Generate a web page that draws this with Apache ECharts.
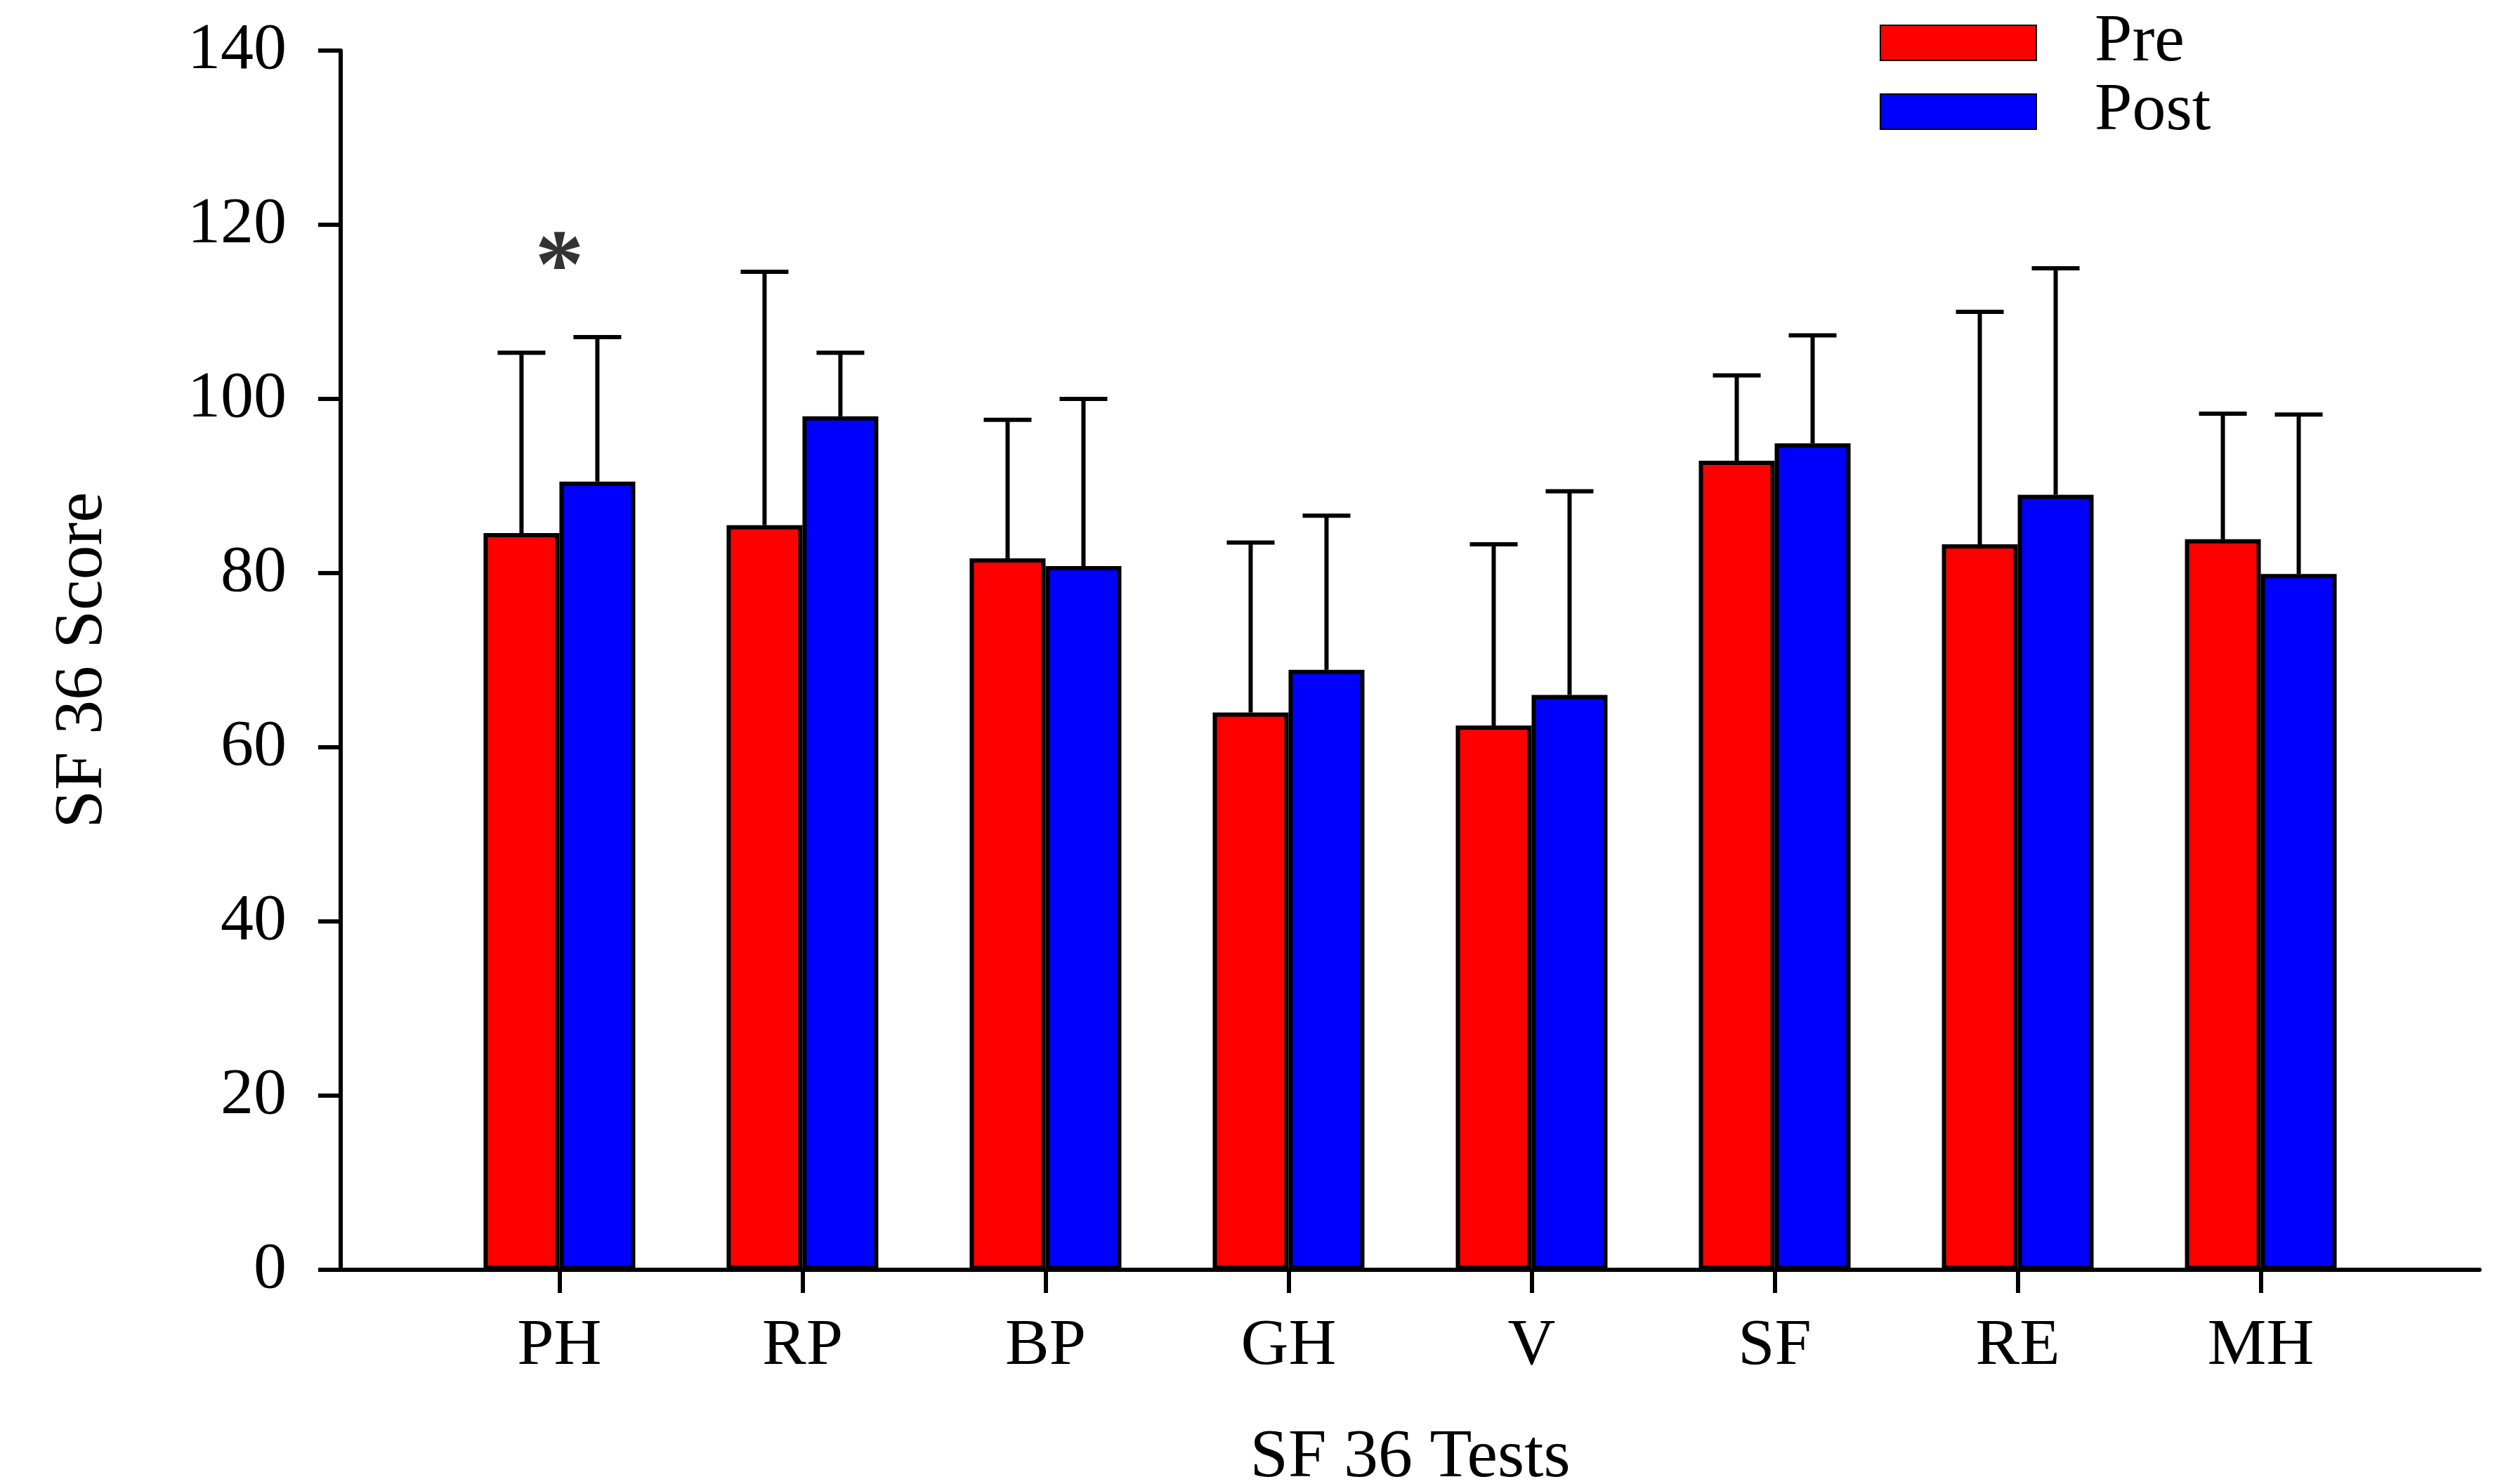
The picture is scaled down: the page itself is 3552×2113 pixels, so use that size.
<!DOCTYPE html>
<html>
<head>
<meta charset="utf-8">
<script src="https://cdn.jsdelivr.net/npm/echarts@6/dist/echarts.min.js"></script>
<style>
html,body{margin:0;padding:0;background:#fff;}
#chart{width:3552px;height:2113px;}
</style>
</head>
<body>
<div id="chart"></div>
<script>
const categories = ['PH', 'RP', 'BP', 'GH', 'V', 'SF', 'RE', 'MH'];
const preMean  = [84.6, 85.5, 81.7, 64.0, 62.5, 92.9, 83.3, 83.9];
const preSD    = [20.7, 29.1, 15.9, 19.5, 20.8,  9.8, 26.7, 14.4];
const postMean = [90.5, 98.0, 80.8, 68.9, 66.0, 94.9, 89.0, 79.9];
const postSD   = [16.6,  7.3, 19.2, 17.7, 23.4, 12.4, 26.0, 18.3];
const significant = ['PH'];
const seriesNames = ['Pre', 'Post'];
const yMin = 0, yMax = 140, yStep = 20;

const FONT = 'Liberation Serif';
const BAR_W = 108;
const BORDER = 6;
const CAP_HALF = 34;

const idx = categories.map((c, i) => i);
const preData = idx.map(i => [i, preMean[i]]);
const postData = idx.map(i => [i, postMean[i]]);
const preErr = idx.map(i => [i, preMean[i], preSD[i]]);
const postErr = idx.map(i => [i, postMean[i], postSD[i]]);
const sigData = significant.map(c => {
  const i = categories.indexOf(c);
  return [i, Math.max(preMean[i] + preSD[i], postMean[i] + postSD[i])];
});

function errRenderer(offset) {
  return function (params, api) {
    const x = api.value(0);
    const m = api.value(1);
    const sd = api.value(2);
    const p0 = api.coord([x, m]);
    const p1 = api.coord([x, m + sd]);
    const cx = p0[0] + offset;
    const style = { stroke: '#000', lineWidth: BORDER };
    return {
      type: 'group',
      children: [
        { type: 'line', shape: { x1: cx, y1: p0[1], x2: cx, y2: p1[1] }, style: style },
        { type: 'line', shape: { x1: cx - CAP_HALF, y1: p1[1], x2: cx + CAP_HALF, y2: p1[1] }, style: style }
      ]
    };
  };
}

const chart = echarts.init(document.getElementById('chart'), null, { renderer: 'canvas' });
chart.setOption({
  animation: false,
  backgroundColor: '#fff',
  textStyle: { fontFamily: FONT, color: '#000' },
  grid: { left: 485, right: 22, top: 72, bottom: 305, containLabel: false, outerBoundsMode: 'none' },
  legend: {
    data: seriesNames,
    orient: 'vertical',
    left: 2671,
    top: 8,
    icon: 'rect',
    itemWidth: 222,
    itemHeight: 50,
    itemGap: 2,
    textStyle: { fontFamily: FONT, fontSize: 96, color: '#000', padding: [0, 0, 0, 78] }
  },
  xAxis: {
    type: 'value',
    min: -0.9,
    max: 7.9,
    name: 'SF 36 Tests',
    nameLocation: 'middle',
    nameGap: 219,
    nameTextStyle: { fontFamily: FONT, fontSize: 98, color: '#000' },
    axisLine: { show: true, onZero: false, lineStyle: { color: '#000', width: BORDER } },
    axisTick: { show: true, length: 33, customValues: idx, lineStyle: { color: '#000', width: BORDER } },
    axisLabel: {
      customValues: idx,
      formatter: v => categories[Math.round(v)],
      margin: 62,
      fontFamily: FONT, fontSize: 94, color: '#000'
    },
    splitLine: { show: false }
  },
  yAxis: {
    type: 'value',
    min: yMin,
    max: yMax,
    interval: yStep,
    name: 'SF 36 Score',
    nameLocation: 'middle',
    nameGap: 318,
    nameTextStyle: { fontFamily: FONT, fontSize: 98, color: '#000' },
    axisLine: { show: true, onZero: false, lineStyle: { color: '#000', width: BORDER } },
    axisTick: { show: true, length: 32, lineStyle: { color: '#000', width: BORDER } },
    axisLabel: { margin: 77, fontFamily: FONT, fontSize: 94, color: '#000' },
    splitLine: { show: false }
  },
  series: [
    {
      name: 'Pre', type: 'bar', data: preData, barWidth: BAR_W, barGap: '0%',
      itemStyle: { color: '#ff0000', borderColor: '#000', borderWidth: BORDER }
    },
    {
      name: 'Post', type: 'bar', data: postData, barWidth: BAR_W, barGap: '0%',
      itemStyle: { color: '#0000ff', borderColor: '#000', borderWidth: BORDER }
    },
    { name: 'Pre SD', type: 'custom', data: preErr, renderItem: errRenderer(-BAR_W / 2), z: 3 },
    { name: 'Post SD', type: 'custom', data: postErr, renderItem: errRenderer(BAR_W / 2), z: 3 },
    {
      name: 'sig', type: 'scatter', data: sigData, symbolSize: 2,
      itemStyle: { color: 'rgba(0,0,0,0)' },
      label: { show: true, formatter: '*', position: 'top', distance: 22,
        fontFamily: FONT, fontWeight: 'bold', fontSize: 140, color: '#000' },
      z: 4
    }
  ]
});
</script>
</body>
</html>
